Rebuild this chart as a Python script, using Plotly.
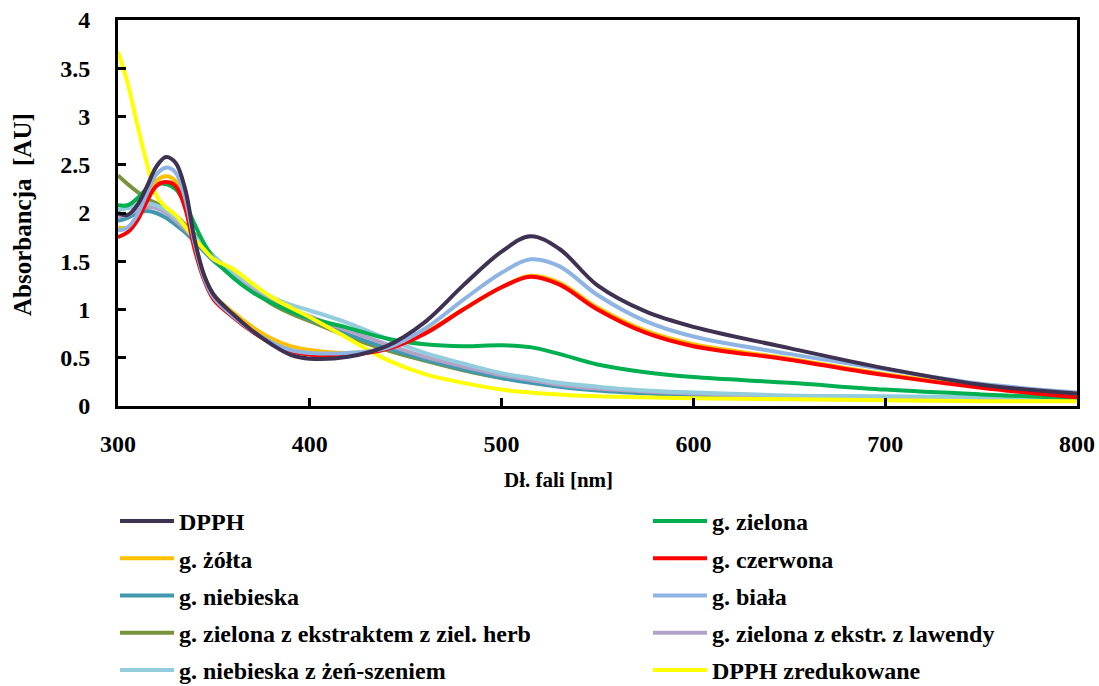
import plotly.graph_objects as go

wavelength = [300, 305, 310, 315, 320, 325, 330, 335, 340, 345, 350, 360, 370, 380, 390, 400,
              420, 440, 460, 480, 500, 515, 530, 550, 575, 600, 650, 700, 750, 800]

dpph = [2.00, 1.98, 2.08, 2.27, 2.48, 2.58, 2.52, 2.25, 1.72, 1.35, 1.15, 0.95, 0.78, 0.64, 0.53, 0.49,
        0.51, 0.62, 0.87, 1.25, 1.60, 1.76, 1.63, 1.25, 0.98, 0.82, 0.60, 0.39, 0.22, 0.13]
g_zielona = [2.08, 2.08, 2.15, 2.25, 2.30, 2.30, 2.25, 2.10, 1.88, 1.68, 1.52, 1.33, 1.18, 1.07, 0.98, 0.91,
             0.81, 0.70, 0.64, 0.62, 0.63, 0.61, 0.54, 0.43, 0.35, 0.30, 0.24, 0.17, 0.12, 0.08]
g_zolta = [1.85, 1.85, 1.95, 2.15, 2.33, 2.38, 2.33, 2.10, 1.68, 1.35, 1.15, 0.97, 0.82, 0.70, 0.62, 0.58,
           0.55, 0.60, 0.76, 1.00, 1.23, 1.35, 1.28, 1.02, 0.78, 0.64, 0.49, 0.33, 0.20, 0.10]
g_czerwona = [1.75, 1.80, 1.92, 2.12, 2.28, 2.32, 2.28, 2.05, 1.62, 1.30, 1.10, 0.92, 0.77, 0.65, 0.57, 0.53,
              0.53, 0.59, 0.75, 1.00, 1.23, 1.34, 1.26, 1.00, 0.76, 0.62, 0.48, 0.32, 0.19, 0.09]
g_niebieska = [1.92, 1.95, 2.00, 2.02, 2.00, 1.95, 1.88, 1.80, 1.70, 1.60, 1.50, 1.35, 1.20, 1.08, 0.98, 0.90,
               0.74, 0.60, 0.48, 0.38, 0.29, 0.24, 0.20, 0.16, 0.13, 0.11, 0.09, 0.08, 0.07, 0.06]
g_biala = [1.82, 1.85, 1.98, 2.20, 2.40, 2.47, 2.42, 2.15, 1.68, 1.32, 1.12, 0.93, 0.78, 0.66, 0.58, 0.55,
           0.55, 0.60, 0.80, 1.10, 1.38, 1.52, 1.45, 1.15, 0.88, 0.72, 0.54, 0.38, 0.23, 0.14]
g_ziel_herb = [2.39, 2.30, 2.22, 2.15, 2.10, 2.04, 1.97, 1.88, 1.78, 1.66, 1.55, 1.37, 1.20, 1.06, 0.96, 0.88,
               0.72, 0.58, 0.47, 0.37, 0.29, 0.25, 0.21, 0.17, 0.14, 0.12, 0.10, 0.08, 0.07, 0.06]
g_ziel_lawenda = [1.96, 1.98, 2.03, 2.06, 2.05, 2.00, 1.92, 1.83, 1.73, 1.62, 1.52, 1.36, 1.22, 1.10, 1.00, 0.93,
                  0.78, 0.64, 0.51, 0.41, 0.32, 0.27, 0.22, 0.18, 0.15, 0.13, 0.10, 0.09, 0.08, 0.07]
g_nieb_zenszen = [2.03, 2.05, 2.08, 2.10, 2.08, 2.03, 1.95, 1.86, 1.76, 1.65, 1.55, 1.39, 1.25, 1.13, 1.05, 0.99,
                  0.86, 0.70, 0.55, 0.44, 0.34, 0.29, 0.24, 0.20, 0.16, 0.14, 0.11, 0.10, 0.09, 0.08]
dpph_zred = [3.67, 3.35, 2.92, 2.52, 2.18, 2.06, 1.98, 1.86, 1.73, 1.62, 1.52, 1.42, 1.27, 1.13, 1.02, 0.92,
             0.70, 0.48, 0.33, 0.24, 0.17, 0.14, 0.12, 0.10, 0.09, 0.08, 0.07, 0.06, 0.05, 0.05]

series_names = ["DPPH", "g. zielona", "g. żółta", "g. czerwona", "g. niebieska", "g. biała",
                "g. zielona z ekstraktem z ziel. herb", "g. zielona z ekstr. z lawendy",
                "g. niebieska z żeń-szeniem", "DPPH zredukowane"]
series_values = [dpph, g_zielona, g_zolta, g_czerwona, g_niebieska, g_biala,
                 g_ziel_herb, g_ziel_lawenda, g_nieb_zenszen, dpph_zred]
colors = ["#3F3151", "#00B050", "#FFC000", "#FF0000", "#4198AF", "#8EB4E3",
          "#77933C", "#B3A2C7", "#93CDDD", "#FFFF00"]
y_ticks = [0, 0.5, 1, 1.5, 2, 2.5, 3, 3.5, 4]
y_ticktext = ["0", "0.5", "1", "1.5", "2", "2.5", "3", "3.5", "4"]
x_ticks = [300, 400, 500, 600, 700, 800]

# drawing order (legend order kept via legendrank)
draw_order = [6, 4, 7, 8, 1, 9, 2, 3, 5, 0]

FONT = "Liberation Serif"

fig = go.Figure()
for i in draw_order:
    fig.add_trace(go.Scatter(
        x=wavelength, y=series_values[i], name=series_names[i], mode="lines",
        line=dict(color=colors[i], width=4, shape="spline", smoothing=1.0),
        legendrank=i + 1, legendgroup=f"g{i}",
        legend="legend" if i % 2 == 0 else "legend2",
    ))

axis_common = dict(
    showline=True, linecolor="black", linewidth=3, mirror=True,
    ticks="inside", ticklen=8, tickwidth=3, tickcolor="black",
    showgrid=False, zeroline=False, automargin=False,
    tickfont=dict(family=FONT, size=24, color="black", weight="bold"),
)

legend_common = dict(
    orientation="v", xref="container", yref="container",
    y=1 - 499 / 686, xanchor="left", yanchor="top",
    font=dict(family=FONT, size=24, color="black", weight="bold"),
    traceorder="grouped", tracegroupgap=3, itemwidth=54,
    bgcolor="rgba(0,0,0,0)",
)

fig.update_layout(
    width=1099, height=686,
    margin=dict(l=118, r=22, t=20, b=280, autoexpand=False),
    paper_bgcolor="white", plot_bgcolor="white",
    font=dict(family=FONT, color="black", weight="bold"),
    xaxis=dict(range=[300, 800], tickvals=x_ticks, ticklabelstandoff=14, **axis_common),
    yaxis=dict(range=[0, 4], tickvals=y_ticks, ticktext=y_ticktext, ticklabelstandoff=20,
               **axis_common),
    legend=dict(x=115 / 1099, **legend_common),
    legend2=dict(x=648 / 1099, **legend_common),
    showlegend=True,
    annotations=[
        dict(text="Dł. fali [nm]", xref="paper", yref="paper",
             x=(558 - 118) / 959, y=(406 - 480) / 386, xanchor="center", yanchor="middle",
             showarrow=False, font=dict(family=FONT, size=21, color="black", weight="bold")),
        dict(text="Absorbancja  [AU]", xref="paper", yref="paper", textangle=-90,
             x=(22 - 118) / 959, y=(406 - 215) / 386, xanchor="center", yanchor="middle",
             showarrow=False, font=dict(family=FONT, size=25, color="black", weight="bold")),
    ],
)

fig.write_html("out.html")
